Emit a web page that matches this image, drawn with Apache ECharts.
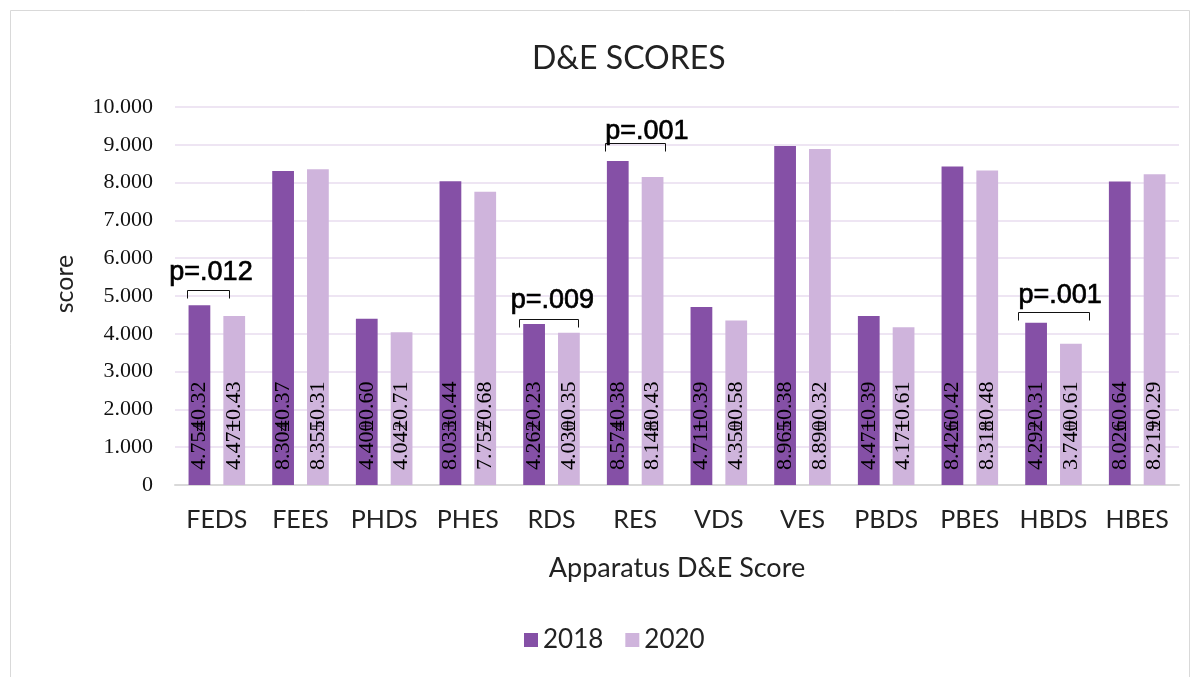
<!DOCTYPE html>
<html>
<head>
<meta charset="utf-8">
<script src="https://cdn.jsdelivr.net/npm/echarts@6/dist/echarts.min.js"></script>
<style>html,body{margin:0;padding:0;background:#fff}#c{width:1198px;height:677px}</style>
</head>
<body>
<div id="c"></div>
<script>
const categories = ['FEDS','FEES','PHDS','PHES','RDS','RES','VDS','VES','PBDS','PBES','HBDS','HBES'];
const values2018 = [4.754, 8.304, 4.400, 8.033, 4.262, 8.574, 4.711, 8.965, 4.471, 8.426, 4.292, 8.026];
const values2020 = [4.471, 8.355, 4.042, 7.757, 4.030, 8.148, 4.350, 8.890, 4.171, 8.318, 3.740, 8.219];
const sd2018 = ['0.32','0.37','0.60','0.44','0.23','0.38','0.39','0.38','0.39','0.42','0.31','0.64'];
const sd2020 = ['0.43','0.31','0.71','0.68','0.35','0.43','0.58','0.32','0.61','0.48','0.61','0.29'];
const pCategories = ['FEDS','RDS','RES','HBDS'];
const pTexts = ['p=.012','p=.009','p=.001','p=.001'];
const yTicks = [0,1,2,3,4,5,6,7,8,9,10];

// annotation placement (bracket level, bracket extents, text offset) — layout only
const pLayout = [
  {level:5.16, x0:-0.36, x1:0.14, tdx:-0.07, tlevel:5.62},
  {level:4.39, x0:-0.39, x1:0.32, tdx:0.01, tlevel:4.88},
  {level:9.05, x0:-0.36, x1:0.36, tdx:0.14, tlevel:9.36},
  {level:4.58, x0:-0.43, x1:0.42, tdx:0.08, tlevel:5.02}
];

const C18 = '#8550a6', C20 = '#cfb4dc';

function barLabel(sds){
  return {
    show: true, position: 'insideBottom', rotate: 90, align: 'left', verticalAlign: 'middle',
    distance: 15,
    formatter: p => '{v|' + p.value.toFixed(3) + '}{s|±' + sds[p.dataIndex] + '}',
    rich: {
      v: {fontFamily: 'Liberation Serif', fontSize: 22, color: '#000', width: 38},
      s: {fontFamily: 'Liberation Serif', fontSize: 22, color: '#000'}
    }
  };
}

const chart = echarts.init(document.getElementById('c'), null, {renderer: 'canvas'});
chart.setOption({
  animation: false,
  backgroundColor: '#fff',
  title: {
    text: 'D&E SCORES', left: 527, top: 38,
    textStyle: {fontFamily: 'Lato', fontSize: 32, fontWeight: 'normal', color: '#222'}
  },
  legend: {
    data: ['2018','2020'], bottom: 19, left: 519, itemWidth: 14, itemHeight: 14, itemGap: 22,
    icon: 'rect',
    textStyle: {fontFamily: 'Lato', fontSize: 26, color: '#222'}
  },
  graphic: [{
    type: 'rect', shape: {x: 10.5, y: 10.5, width: 1179, height: 700},
    style: {fill: 'none', stroke: '#d9d9d9', lineWidth: 1}, silent: true, z: -10
  }],
  grid: {left: 175, right: 19, top: 107, bottom: 192, containLabel: false},
  xAxis: {
    type: 'category', data: categories,
    axisTick: {show: false},
    axisLine: {lineStyle: {color: '#d9d9d9', width: 2}},
    axisLabel: {fontFamily: 'Lato', fontSize: 25, color: '#222', margin: 22, interval: 0},
    name: 'Apparatus D&E Score', nameLocation: 'middle', nameGap: 70,
    nameTextStyle: {fontFamily: 'Lato', fontSize: 27, color: '#222'}
  },
  yAxis: {
    type: 'value', min: 0, max: 10, interval: 1,
    axisLine: {show: false}, axisTick: {show: false},
    splitLine: {lineStyle: {color: '#e8dcef', width: 1.5}},
    axisLabel: {
      fontFamily: 'Liberation Serif', fontSize: 22, color: '#111', margin: 22,
      formatter: v => yTicks.indexOf(v) >= 0 ? (v === 0 ? '0' : v.toFixed(3)) : ''
    },
    name: 'score', nameLocation: 'middle', nameGap: 98,
    nameTextStyle: {fontFamily: 'Lato', fontSize: 25, color: '#222', padding: [0, 0, 0, 24]}
  },
  series: [
    {name: '2018', type: 'bar', data: values2018, barWidth: '26%', barGap: '60%',
     itemStyle: {color: C18}, label: barLabel(sd2018)},
    {name: '2020', type: 'bar', data: values2020, barWidth: '26%', barGap: '60%',
     itemStyle: {color: C20}, label: barLabel(sd2020)},
    {name: 'p', type: 'custom', z: 10,
     data: pCategories.map((c, i) => [categories.indexOf(c), pLayout[i].level, i]),
     renderItem: function(params, api){
       const i = api.value(2);
       const L = pLayout[i];
       const ci = api.value(0);
       const bw = api.size([1, 0])[0];
       const p = api.coord([ci, L.level]);
       const t = api.coord([ci, L.tlevel]);
       const xl = Math.round(p[0] + L.x0 * bw) + 0.5, xr = Math.round(p[0] + L.x1 * bw) + 0.5;
       const y = Math.round(p[1]) + 0.5;
       return {type: 'group', children: [
         {type: 'polyline', shape: {points: [[xl, y + 8], [xl, y], [xr, y], [xr, y + 8]]},
          style: {stroke: '#111', lineWidth: 1, fill: 'none'}},
         {type: 'text', x: t[0] + L.tdx * bw, y: t[1],
          style: {text: pTexts[i], fontFamily: 'Liberation Sans', fontSize: 27, fill: '#000',
                  stroke: '#000', lineWidth: 0.7,
                  align: 'center', verticalAlign: 'middle'}}
       ]};
     }}
  ]
});
</script>
</body>
</html>
